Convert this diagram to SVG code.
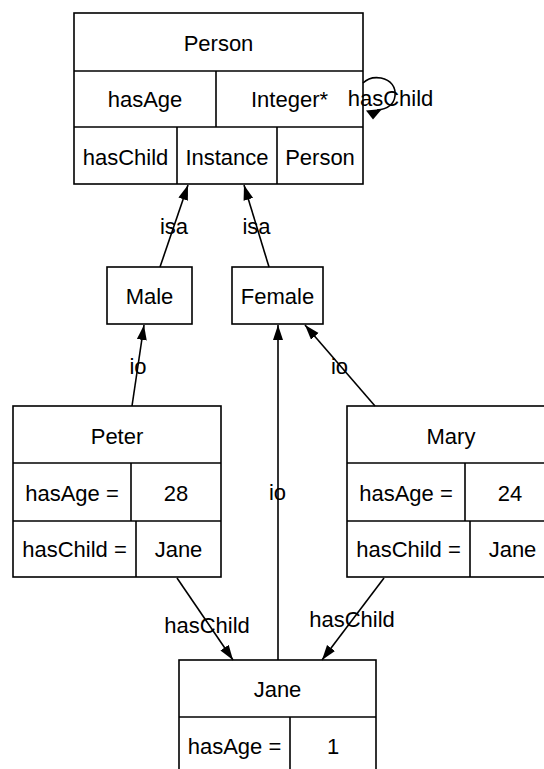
<svg xmlns="http://www.w3.org/2000/svg" width="544" height="769" viewBox="0 0 544 769">
  <style>
    .box { fill: #ffffff; stroke: #000000; stroke-width: 1.6; }
    .sep { stroke: #000000; stroke-width: 1.6; fill: none; }
    .edge { stroke: #000000; stroke-width: 1.6; fill: none; }
    text { font-family: "Liberation Sans", Arial, Helvetica, sans-serif; font-size: 22px; fill: #000000; text-anchor: middle; }
  </style>
  <defs>
    <marker id="arrow" markerUnits="userSpaceOnUse" markerWidth="16" markerHeight="11" refX="15" refY="5" orient="auto">
      <path d="M0,0 L15,5 L0,10 z" fill="#000000"/>
    </marker>
  </defs>
  <rect width="544" height="769" fill="#ffffff"/>

  <!-- Person -->
  <g id="person">
    <rect class="box" x="74" y="13" width="289" height="171"/>
    <line class="sep" x1="74" y1="71" x2="363" y2="71"/>
    <line class="sep" x1="74" y1="127" x2="363" y2="127"/>
    <line class="sep" x1="216" y1="71" x2="216" y2="127"/>
    <line class="sep" x1="177" y1="127" x2="177" y2="184"/>
    <line class="sep" x1="277" y1="127" x2="277" y2="184"/>
    <text x="218.5" y="51">Person</text>
    <text x="145" y="107">hasAge</text>
    <text x="289.5" y="107">Integer*</text>
    <text x="125.5" y="165">hasChild</text>
    <text x="227" y="165">Instance</text>
    <text x="320" y="165">Person</text>
  </g>

  <!-- Male -->
  <g id="male">
    <rect class="box" x="107" y="267" width="85" height="57"/>
    <text x="149.5" y="304">Male</text>
  </g>

  <!-- Female -->
  <g id="female">
    <rect class="box" x="232" y="267" width="91" height="57"/>
    <text x="277.5" y="304">Female</text>
  </g>

  <!-- Peter -->
  <g id="peter">
    <rect class="box" x="13" y="406" width="208" height="171"/>
    <line class="sep" x1="13" y1="463" x2="221" y2="463"/>
    <line class="sep" x1="13" y1="521" x2="221" y2="521"/>
    <line class="sep" x1="131" y1="463" x2="131" y2="521"/>
    <line class="sep" x1="136" y1="521" x2="136" y2="577"/>
    <text x="117" y="444">Peter</text>
    <text x="72" y="501">hasAge =</text>
    <text x="176" y="501">28</text>
    <text x="74.5" y="557">hasChild =</text>
    <text x="178.5" y="557">Jane</text>
  </g>

  <!-- Mary -->
  <g id="mary">
    <rect class="box" x="347" y="406" width="208" height="171"/>
    <line class="sep" x1="347" y1="463" x2="555" y2="463"/>
    <line class="sep" x1="347" y1="521" x2="555" y2="521"/>
    <line class="sep" x1="465" y1="463" x2="465" y2="521"/>
    <line class="sep" x1="470" y1="521" x2="470" y2="577"/>
    <text x="451" y="444">Mary</text>
    <text x="406" y="501">hasAge =</text>
    <text x="510" y="501">24</text>
    <text x="408.5" y="557">hasChild =</text>
    <text x="512.5" y="557">Jane</text>
  </g>

  <!-- Jane -->
  <g id="jane">
    <rect class="box" x="179" y="660" width="197" height="130"/>
    <line class="sep" x1="179" y1="717" x2="376" y2="717"/>
    <line class="sep" x1="290" y1="717" x2="290" y2="790"/>
    <text x="277.5" y="697">Jane</text>
    <text x="234.5" y="754">hasAge =</text>
    <text x="333" y="754">1</text>
  </g>

  <!-- connectors, drawn last so their labels sit on top -->
  <g id="edges">
    <line class="edge" x1="160" y1="267" x2="188" y2="185" marker-end="url(#arrow)"/>
    <text x="174" y="234">isa</text>
    <line class="edge" x1="269" y1="267" x2="244" y2="185" marker-end="url(#arrow)"/>
    <text x="256.5" y="234">isa</text>
    <line class="edge" x1="132" y1="406" x2="144" y2="325" marker-end="url(#arrow)"/>
    <text x="138" y="374">io</text>
    <line class="edge" x1="278" y1="660" x2="278" y2="325" marker-end="url(#arrow)"/>
    <text x="277.5" y="500">io</text>
    <line class="edge" x1="375" y1="406" x2="305" y2="325" marker-end="url(#arrow)"/>
    <text x="339.5" y="374">io</text>
    <line class="edge" x1="177" y1="578" x2="233" y2="660" marker-end="url(#arrow)"/>
    <text x="207" y="633">hasChild</text>
    <line class="edge" x1="384" y1="578" x2="322" y2="660" marker-end="url(#arrow)"/>
    <text x="352" y="627">hasChild</text>
    <!-- self loop on Person -->
    <path class="edge" d="M363,83 C368,78 375,77 381,78 C391,80 396,87 395,96 C394,104 388,109 377,110"/>
    <polygon points="366,110.5 382,109 373,119.5" fill="#000000"/>
    <text x="390.5" y="106">hasChild</text>
  </g>
</svg>
